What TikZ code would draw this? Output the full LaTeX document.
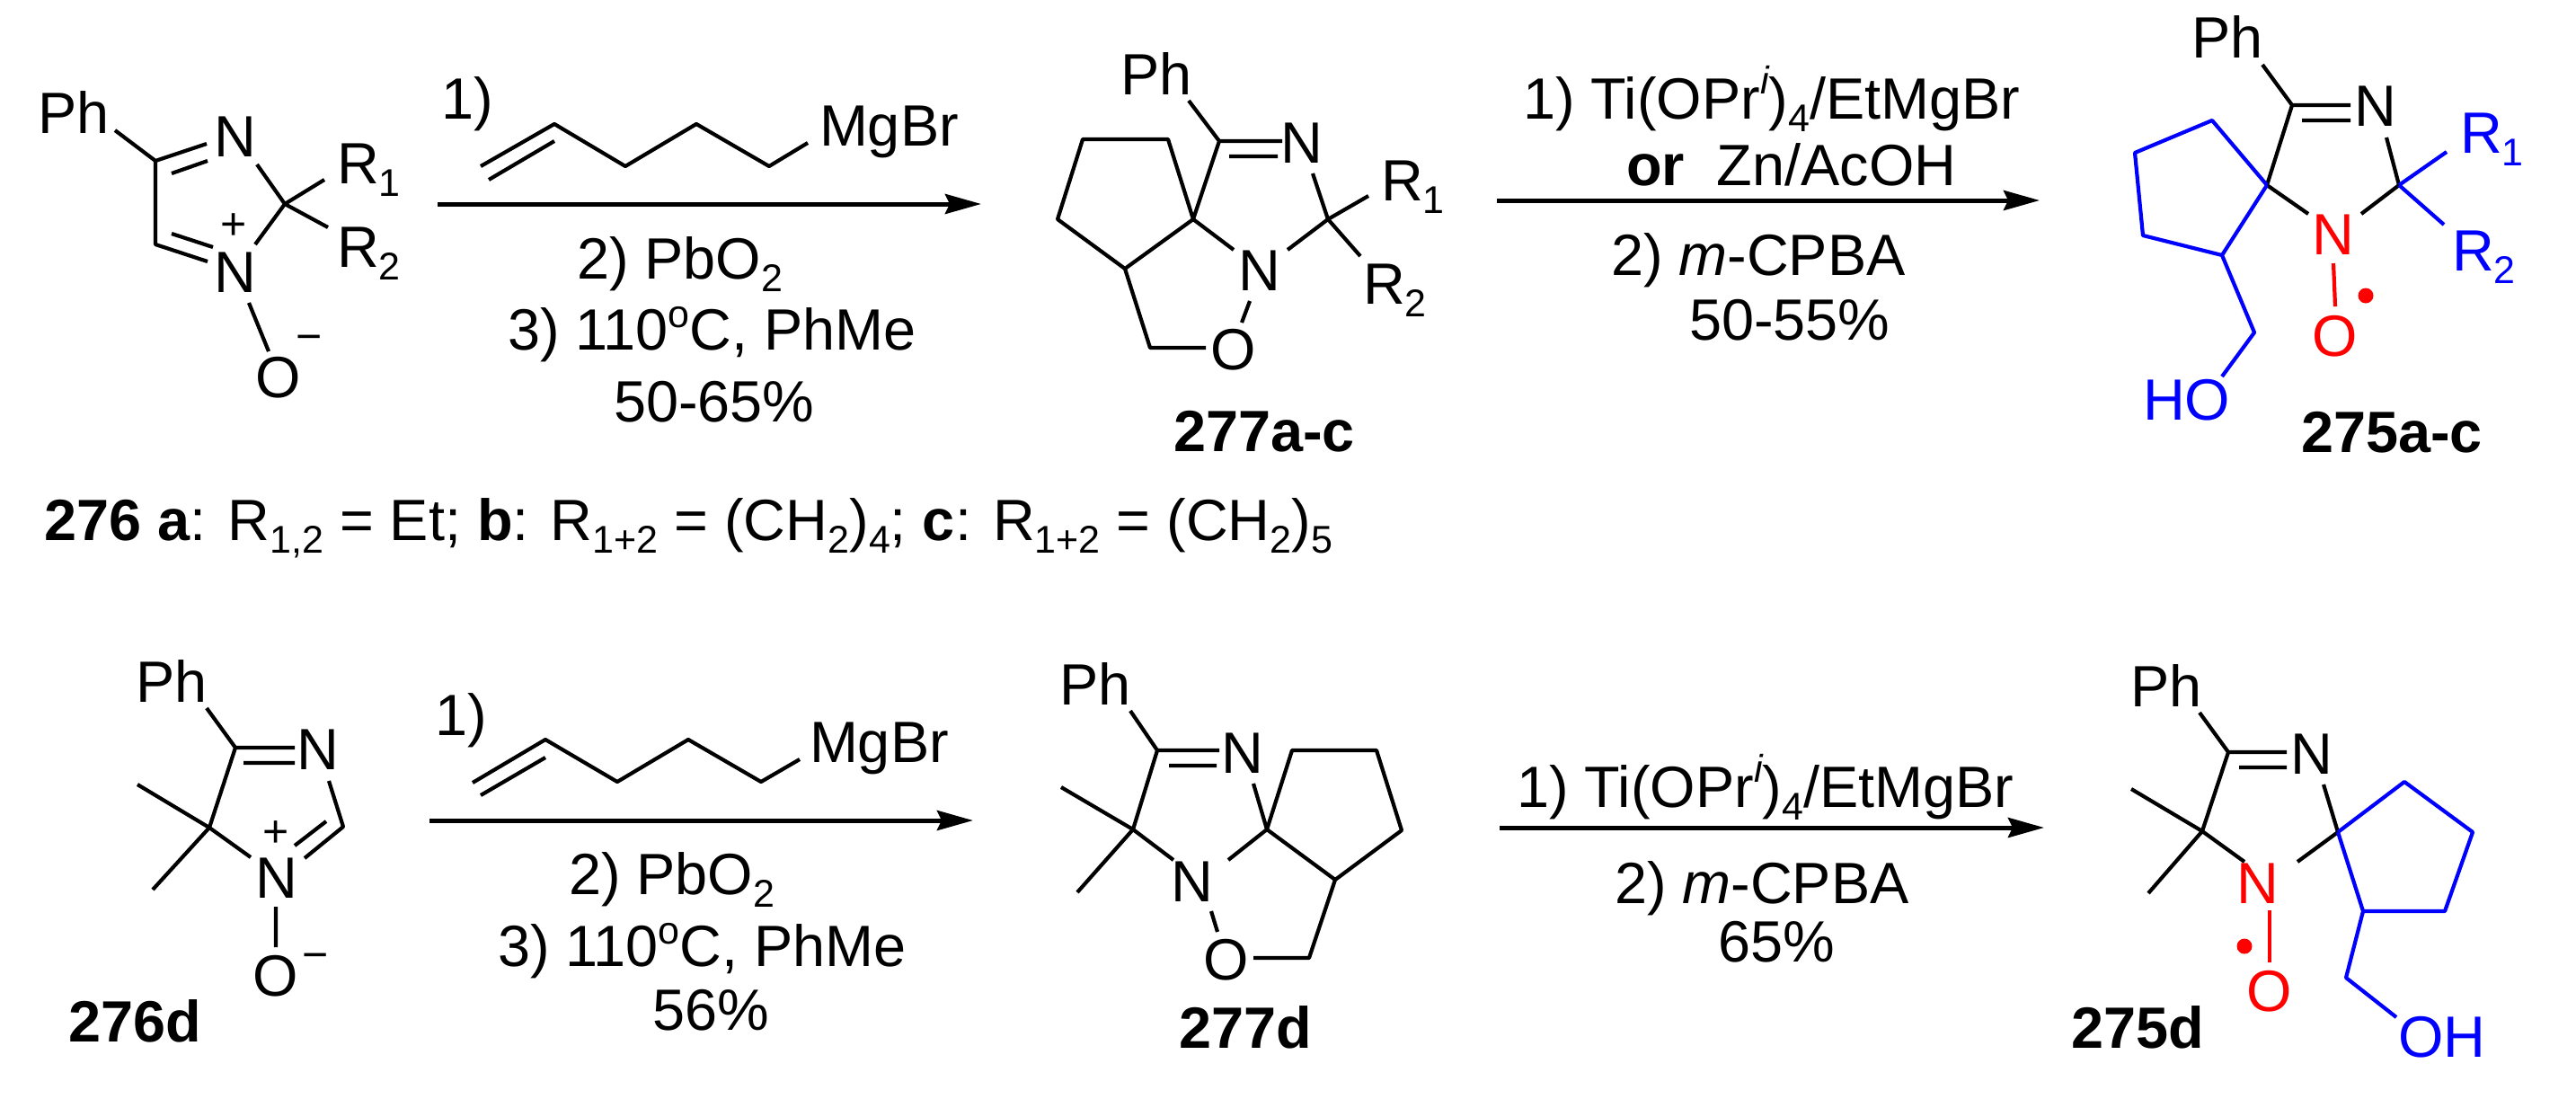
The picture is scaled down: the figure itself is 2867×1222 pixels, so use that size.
\documentclass[tikz,border=0pt]{standalone}
\usepackage{fontspec}
\setmainfont{Liberation Sans}
\usetikzlibrary{arrows.meta}
\definecolor{chemblue}{RGB}{0,0,255}
\definecolor{chemred}{RGB}{255,0,0}
\newcommand\lowr[1]{\raisebox{-7pt}{\fontsize{21.5}{22}\selectfont #1}}
\newcommand\highr[1]{\raisebox{12.5pt}{\fontsize{21.5}{22}\selectfont #1}}
\tikzset{
  txt/.style={inner sep=0pt,outer sep=0pt,anchor=base west,font=\fontsize{32.4}{36}\selectfont},
  atom/.style={inner sep=0pt,outer sep=0pt,anchor=base,font=\fontsize{32.4}{36}\selectfont},
  chg/.style={inner sep=0pt,outer sep=0pt,anchor=base,font=\fontsize{25}{28}\selectfont},
  bond/.style={line width=2.1pt,line join=round,line cap=butt},
  rxn/.style={line width=2.5pt,-{Stealth[length=20pt,width=11pt,inset=2.5pt]}},
  rdot/.style={circle,fill=chemred,draw=none,minimum size=8.5pt,inner sep=0pt}
}
\begin{document}
\begin{tikzpicture}[x=0.5pt,y=-0.5pt]
\useasboundingbox (0,0) rectangle (2867,1222);

%%% 276
\node[txt] (Aph) at (42,148) {Ph};
\node[atom] (An1) at (262,174) {N};
\node[atom] (An2) at (262,325) {N};
\node[atom] (Aox) at (310,442) {O};
\node[txt] (Ar1t) at (375,204) {R\lowr{1}};
\node[txt] (Ar2t) at (375,297) {R\lowr{2}};
\node[chg] (Apl) at (260,266) {+};
\node[chg] (Amn) at (344,391) {−};
\coordinate (Aa) at (173,179); \coordinate (Ab) at (173,272); \coordinate (Ac) at (317,227);
\coordinate (AphE) at (128,145); \coordinate (An1a) at (230,160); \coordinate (Ad1a) at (191,193);
\coordinate (Ad1b) at (231,179); \coordinate (An1b) at (286,183); \coordinate (Ar1) at (361,200);
\coordinate (Ar2) at (365,253); \coordinate (An2a) at (284,272); \coordinate (An2b) at (231,291);
\coordinate (Ad2a) at (191,260); \coordinate (Ad2b) at (237,275); \coordinate (An2c) at (277,337);
\coordinate (AO) at (299,391);
\draw[bond] (AphE)--(Aa)--(An1a) (Ad1a)--(Ad1b) (An1b)--(Ac)--(An2a) (Ac)--(Ar1) (Ac)--(Ar2)
  (Aa)--(Ab)--(An2b) (Ad2a)--(Ad2b) (An2c)--(AO);

%%% reaction 1
\node[txt] (t1) at (491,132) {1)};
\coordinate (g1) at (535,185); \coordinate (g2) at (617,138); \coordinate (g3) at (696,185);
\coordinate (g4) at (775,138); \coordinate (g5) at (856,185); \coordinate (g6) at (899,159);
\coordinate (g7) at (544,200); \coordinate (g8) at (617,157);
\draw[bond] (g1)--(g2)--(g3)--(g4)--(g5)--(g6) (g7)--(g8);
\node[txt] (t2) at (912,162) {MgBr};
\coordinate (ar1s) at (487,227); \coordinate (ar1e) at (1092,227);
\draw[rxn] (ar1s)--(ar1e);
\node[txt] (t3) at (642,310) {2) PbO\lowr{2}};
\node[txt] (t4) at (565,389) {3) 110\highr{o}C, PhMe};
\node[txt] (t5) at (683,469) {50-65\%};
\node[txt] (t6) at (49,601) {\textbf{276 a}: R\lowr{1,2} = Et; \textbf{b}: R\lowr{1+2} = (CH\lowr{2})\lowr{4}; \textbf{c}: R\lowr{1+2} = (CH\lowr{2})\lowr{5}};

%%% 277
\node[txt] (Bph) at (1247,105) {Ph};
\node[atom] (Bn1) at (1449,181) {N};
\node[atom] (Bn2) at (1402,323) {N};
\node[atom] (Box) at (1373,411) {O};
\node[txt] (Br1t) at (1537,223) {R\lowr{1}};
\node[txt] (Br2t) at (1517,338) {R\lowr{2}};
\node[txt] (Blab) at (1306,502) {\textbf{277a-c}};
\coordinate (Bp) at (1323,112); \coordinate (Ba) at (1357,157); \coordinate (Bb) at (1427,157);
\coordinate (Bc) at (1368,174); \coordinate (Bd) at (1422,174); \coordinate (Bs) at (1328,244);
\coordinate (Be) at (1300,155); \coordinate (Bf) at (1205,155); \coordinate (Bg) at (1177,244);
\coordinate (Bh) at (1252,299); \coordinate (Bi) at (1280,387); \coordinate (Bj) at (1342,387);
\coordinate (Bk) at (1382,359); \coordinate (Bl) at (1391,335); \coordinate (Bm) at (1373,278);
\coordinate (Bn) at (1433,278); \coordinate (Bo) at (1478,244); \coordinate (Bq) at (1461,193);
\coordinate (Br) at (1523,218); \coordinate (Bt) at (1514,285);
\draw[bond] (Bp)--(Ba)--(Bb) (Bc)--(Bd) (Ba)--(Bs)--(Be)--(Bf)--(Bg)--(Bh)--(Bs)--(Bm)
  (Bh)--(Bi)--(Bj) (Bk)--(Bl) (Bn)--(Bo)--(Bq) (Bo)--(Br) (Bo)--(Bt);

%%% reaction 2
\node[txt] (u1) at (1695,132) {1) Ti(OPr\raisebox{14pt}{\fontsize{21.5}{22}\selectfont\itshape i})\lowr{4}/EtMgBr};
\node[txt] (u2) at (1810,206) {\textbf{or}\ \ Zn/AcOH};
\coordinate (ar2s) at (1666,223); \coordinate (ar2e) at (2270,223);
\draw[rxn] (ar2s)--(ar2e);
\node[txt] (u3) at (1793,306) {2) \textit{m}-CPBA};
\node[txt] (u4) at (1880,378) {50-55\%};

%%% 275
\node[txt] (Cph) at (2439,64) {Ph};
\node[atom] (Cn1) at (2644,140) {N};
\node[atom,text=chemred] (Cn2) at (2597,283) {N};
\node[atom,text=chemred] (Cox) at (2599,396) {O};
\node[txt,text=chemblue] (Cr1t) at (2738,170) {R\lowr{1}};
\node[txt,text=chemblue] (Cr2t) at (2729,301) {R\lowr{2}};
\node[txt,text=chemblue] (Cho) at (2385,467) {HO};
\node[txt] (Clab) at (2561,503) {\textbf{275a-c}};
\node[rdot] (Cdot) at (2633,329) {};
\coordinate (Cp) at (2518,72); \coordinate (Ca) at (2551,117); \coordinate (Cb) at (2616,117);
\coordinate (Cc) at (2562,134); \coordinate (Cd) at (2616,134); \coordinate (Cs) at (2523,206);
\coordinate (Ce) at (2670,206); \coordinate (Cf) at (2656,153); \coordinate (Cg) at (2628,238);
\coordinate (Ch) at (2569,238); \coordinate (Ci) at (2723,169); \coordinate (Cj) at (2720,250);
\coordinate (Ck) at (2462,134); \coordinate (Cl) at (2376,170); \coordinate (Cm) at (2385,262);
\coordinate (Cn) at (2473,284); \coordinate (Co) at (2509,370); \coordinate (Cq) at (2473,419);
\coordinate (Cr) at (2597,293); \coordinate (Ct) at (2599,341);
\draw[bond] (Cp)--(Ca)--(Cb) (Cc)--(Cd) (Ca)--(Cs)--(Ch) (Cf)--(Ce)--(Cg);
\draw[bond,chemblue] (Ce)--(Ci) (Ce)--(Cj) (Cs)--(Ck)--(Cl)--(Cm)--(Cn)--(Cs) (Cn)--(Co)--(Cq);
\draw[bond,chemred] (Cr)--(Ct);

%%% 276d
\node[txt] (Dph) at (151,781) {Ph};
\node[atom] (Dn1) at (354,856) {N};
\node[atom] (Dn2) at (308,999) {N};
\node[atom] (Dox) at (307,1108) {O};
\node[chg] (Dpl) at (307,942) {+};
\node[chg] (Dmn) at (351,1079) {−};
\node[txt] (Dlab) at (76,1159) {\textbf{276d}};
\coordinate (Dp) at (230,788); \coordinate (Da) at (262,832); \coordinate (Db) at (328,832);
\coordinate (Dc) at (271,849); \coordinate (Dd) at (328,849); \coordinate (De) at (366,869);
\coordinate (Df) at (382,920); \coordinate (Dg) at (339,955); \coordinate (Dh) at (363,914);
\coordinate (Di) at (328,941); \coordinate (Dj) at (233,921); \coordinate (Dk) at (153,873);
\coordinate (Dl) at (170,990); \coordinate (Dm) at (279,954); \coordinate (Dq) at (307,1009);
\coordinate (Dr) at (307,1054);
\draw[bond] (Dp)--(Da)--(Db) (Dc)--(Dd) (De)--(Df)--(Dg) (Dh)--(Di) (Da)--(Dj)--(Dm) (Dk)--(Dj)--(Dl) (Dq)--(Dr);

%%% reaction 3
\node[txt] (v1) at (484,818) {1)};
\coordinate (h1) at (526,871); \coordinate (h2) at (607,823); \coordinate (h3) at (687,870);
\coordinate (h4) at (766,823); \coordinate (h5) at (847,870); \coordinate (h6) at (890,845);
\coordinate (h7) at (535,885); \coordinate (h8) at (607,843);
\draw[bond] (h1)--(h2)--(h3)--(h4)--(h5)--(h6) (h7)--(h8);
\node[txt] (v2) at (901,848) {MgBr};
\coordinate (ar3s) at (478,913); \coordinate (ar3e) at (1083,913);
\draw[rxn] (ar3s)--(ar3e);
\node[txt] (v3) at (633,995) {2) PbO\lowr{2}};
\node[txt] (v4) at (554,1075) {3) 110\highr{o}C, PhMe};
\node[txt] (v5) at (726,1146) {56\%};

%%% 277d
\node[txt] (Eph) at (1179,784) {Ph};
\node[atom] (En1) at (1383,860) {N};
\node[atom] (En2) at (1327,1003) {N};
\node[atom] (Eox) at (1365,1090) {O};
\node[txt] (Elab) at (1312,1166) {\textbf{277d}};
\coordinate (Ep) at (1258,791); \coordinate (Ea) at (1288,835); \coordinate (Eb) at (1357,835);
\coordinate (Ec) at (1301,852); \coordinate (Ed) at (1354,852); \coordinate (Ee) at (1261,923);
\coordinate (Ef) at (1181,876); \coordinate (Eg) at (1199,993); \coordinate (Eh) at (1306,957);
\coordinate (Ei) at (1348,1014); \coordinate (Ej) at (1355,1037); \coordinate (Ek) at (1395,1066);
\coordinate (El) at (1457,1066); \coordinate (Em) at (1486,979); \coordinate (Es) at (1410,923);
\coordinate (Eq) at (1367,957); \coordinate (Er) at (1395,872); \coordinate (Et) at (1438,835);
\coordinate (Eu) at (1532,835); \coordinate (Ev) at (1560,924);
\draw[bond] (Ep)--(Ea)--(Eb) (Ec)--(Ed) (Ea)--(Ee)--(Eh) (Ef)--(Ee)--(Eg) (Ei)--(Ej) (Ek)--(El)--(Em)
  (Eq)--(Es)--(Er) (Es)--(Et)--(Eu)--(Ev)--(Em)--(Es);

%%% reaction 4
\node[txt] (w1) at (1688,898) {1) Ti(OPr\raisebox{14pt}{\fontsize{21.5}{22}\selectfont\itshape i})\lowr{4}/EtMgBr};
\coordinate (ar4s) at (1669,921); \coordinate (ar4e) at (2275,921);
\draw[rxn] (ar4s)--(ar4e);
\node[txt] (w2) at (1797,1005) {2) \textit{m}-CPBA};
\node[txt] (w3) at (1912,1070) {65\%};

%%% 275d
\node[txt] (Fph) at (2371,786) {Ph};
\node[atom] (Fn1) at (2573,861) {N};
\node[atom,text=chemred] (Fn2) at (2513,1005) {N};
\node[atom,text=chemred] (Fox) at (2526,1125) {O};
\node[txt,text=chemblue] (Foh) at (2669,1176) {OH};
\node[txt] (Flab) at (2305,1166) {\textbf{275d}};
\node[rdot] (Fdot) at (2498,1053) {};
\coordinate (Fp) at (2448,793); \coordinate (Fa) at (2480,837); \coordinate (Fb) at (2545,837);
\coordinate (Fc) at (2492,854); \coordinate (Fd) at (2545,854); \coordinate (Fe) at (2451,925);
\coordinate (Ff) at (2372,878); \coordinate (Fg) at (2391,994); \coordinate (Fh) at (2498,959);
\coordinate (Fi) at (2557,959); \coordinate (Fs) at (2602,926); \coordinate (Fj) at (2586,873);
\coordinate (Fk) at (2676,870); \coordinate (Fl) at (2752,926); \coordinate (Fm) at (2721,1014);
\coordinate (Fn) at (2630,1014); \coordinate (Fo) at (2611,1088); \coordinate (Fq) at (2667,1132);
\coordinate (Fr) at (2526,1013); \coordinate (Ft) at (2526,1071);
\draw[bond] (Fp)--(Fa)--(Fb) (Fc)--(Fd) (Fa)--(Fe)--(Fh) (Ff)--(Fe)--(Fg) (Fi)--(Fs)--(Fj);
\draw[bond,chemblue] (Fs)--(Fk)--(Fl)--(Fm)--(Fn)--(Fs) (Fn)--(Fo)--(Fq);
\draw[bond,chemred] (Fr)--(Ft);
\end{tikzpicture}
\end{document}
